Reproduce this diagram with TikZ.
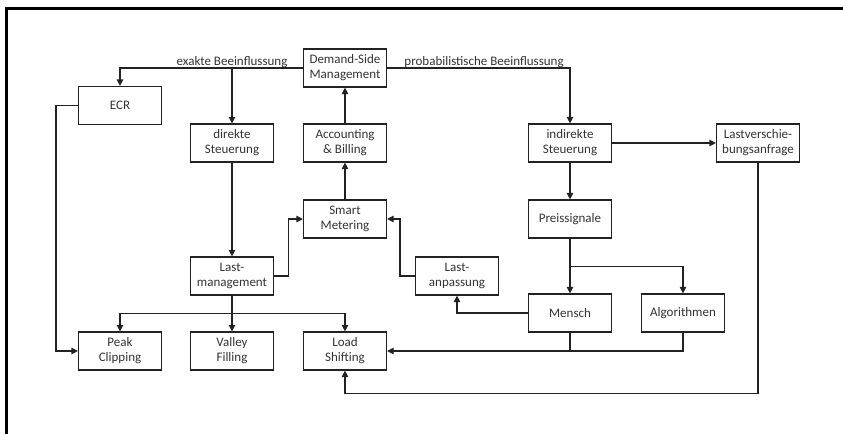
\documentclass[tikz,border=0pt]{standalone}
\usepackage{fontspec}
\setmainfont{Carlito}
\usepackage{tikz}
\usetikzlibrary{arrows.meta}

\definecolor{linegray}{HTML}{222222}
\definecolor{textgray}{HTML}{333333}

\tikzset{
    box/.style={draw=linegray, line width=1.2pt, minimum width=83pt, minimum height=38pt,
        align=center, inner sep=2pt, text=textgray, font=\fontsize{13}{15}\selectfont},
    conn/.style={draw=linegray, line width=1.2pt},
    arr/.style={conn, -{Triangle[length=6.5pt,width=6.5pt]}},
    edgelabel/.style={anchor=base, inner sep=0pt, yshift=2.5pt, text=textgray,
        font=\fontsize{13}{15}\selectfont}
}

\begin{document}
\begin{tikzpicture}[x=1pt,y=-1pt]
    \useasboundingbox (0,0) rectangle (843,434);
    % frame
    \draw[line width=3pt] (6.5,434) -- (6.5,8.5) -- (843,8.5);

    % boxes
    \node[box] (dsm) at (345,68) {Demand-Side\\Management};
    \node[box] (ecr) at (120,105.5) {ECR};
    \node[box] (direkt) at (232,143) {direkte\\Steuerung};
    \node[box] (account) at (345,143) {Accounting\\\& Billing};
    \node[box] (smart) at (345,219) {Smart\\Metering};
    \node[box] (lastmgmt) at (232,276) {Last-\\management};
    \node[box] (lastanp) at (457,276) {Last-\\anpassung};
    \node[box] (peak) at (120,351) {Peak\\Clipping};
    \node[box] (valley) at (232,351) {Valley\\Filling};
    \node[box] (load) at (345,351) {Load\\Shifting};
    \node[box] (indirekt) at (570,143) {indirekte\\Steuerung};
    \node[box] (lastver) at (758,143) {Lastverschie-\\bungsanfrage};
    \node[box] (preis) at (570,219) {Preissignale};
    \node[box] (mensch) at (570,313) {Mensch};
    \node[box] (algo) at (683,313) {Algorithmen};

    % exakte Beeinflussung
    \draw[arr] (dsm.west) -| (ecr.north);
    \draw[arr] (direkt.north |- dsm.west) -- (direkt.north);
    \node[edgelabel] (exakt) at (direkt.north |- dsm.west) {exakte Beeinflussung};

    % probabilistische Beeinflussung
    \draw[arr] (dsm.east) -| (indirekt.north);
    \node[edgelabel] (prob) at ([xshift=97pt]dsm.east) {probabilistische Beeinflussung};

    \draw[arr] (account) -- (dsm);
    \draw[arr] (smart) -- (account);
    \draw[arr] (direkt) -- (lastmgmt);
    \draw[arr] (lastmgmt.east) -- ++(14,0) |- (smart.west);
    \draw[arr] (lastanp.west) -- ++(-15,0) |- (smart.east);

    % Lastmanagement verzweigt
    \draw[conn] (lastmgmt.south) -- ++(0,18) coordinate (split);
    \draw[arr] (split) -| (peak.north);
    \draw[arr] (split) -| (load.north);
    \draw[arr] (lastmgmt) -- (valley);
    \draw[arr] (ecr.west) -- ++(-22,0) |- (peak.west);

    % indirekte Steuerung
    \draw[arr] (indirekt) -- (lastver);
    \draw[arr] (indirekt) -- (preis);
    \draw[arr] (preis) -- (mensch);
    \draw[arr] (preis.south) -- ++(0,28) -| (algo.north);
    \draw[arr] (mensch.west) -| (lastanp.south);
    \draw[conn] (mensch.south) -- (mensch.south |- load.east);
    \draw[arr] (algo.south) |- (load.east);
    \draw[arr] (lastver.south) -- ++(0,231) -| (load.south);
\end{tikzpicture}
\end{document}
